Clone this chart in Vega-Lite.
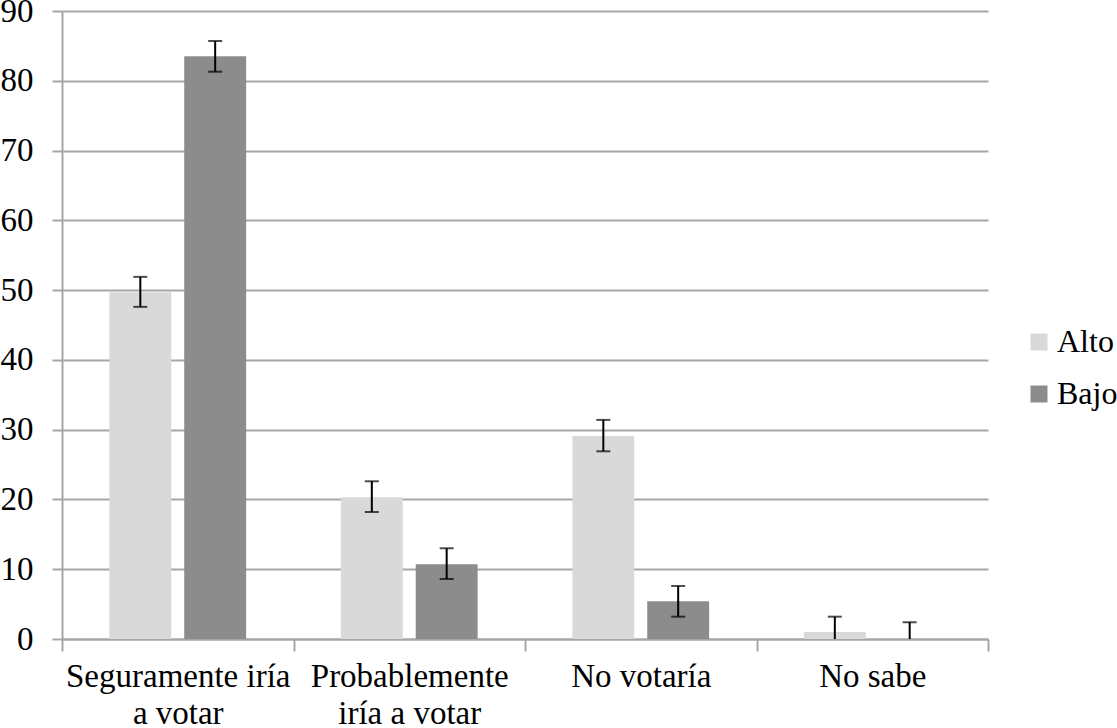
{
  "$schema": "https://vega.github.io/schema/vega-lite/v6.json",
  "width": 926,
  "height": 628,
  "autosize": {"type": "none"},
  "padding": {"left": 62, "top": 11, "right": 129, "bottom": 89},
  "background": "white",
  "config": {"view": {"stroke": null}},
  "data": {
    "values": [
      {"respuesta": "Seguramente iría a votar", "nivel": "Alto", "valor": 49.7, "bajo": 47.6, "alto": 51.9},
      {"respuesta": "Seguramente iría a votar", "nivel": "Bajo", "valor": 83.5, "bajo": 81.3, "alto": 85.7},
      {"respuesta": "Probablemente iría a votar", "nivel": "Alto", "valor": 20.3, "bajo": 18.2, "alto": 22.6},
      {"respuesta": "Probablemente iría a votar", "nivel": "Bajo", "valor": 10.7, "bajo": 8.6, "alto": 13.0},
      {"respuesta": "No votaría", "nivel": "Alto", "valor": 29.1, "bajo": 26.9, "alto": 31.4},
      {"respuesta": "No votaría", "nivel": "Bajo", "valor": 5.4, "bajo": 3.2, "alto": 7.6},
      {"respuesta": "No sabe", "nivel": "Alto", "valor": 1.0, "bajo": -1.2, "alto": 3.2},
      {"respuesta": "No sabe", "nivel": "Bajo", "valor": 0.0, "bajo": -2.4, "alto": 2.4}
    ]
  },
  "encoding": {
    "x": {
      "field": "respuesta",
      "type": "nominal",
      "sort": ["Seguramente iría a votar", "Probablemente iría a votar", "No votaría", "No sabe"],
      "scale": {"paddingInner": 0, "paddingOuter": 0},
      "axis": {
        "title": null,
        "labelAngle": 0,
        "labelFont": "Liberation Serif",
        "labelFontSize": 33,
        "labelColor": "#000000",
        "labelLimit": 0,
        "labelPadding": 9,
        "labelLineHeight": 37,
        "labelBaseline": "top",
        "labelExpr": "datum.value == 'Seguramente iría a votar' ? ['Seguramente iría', 'a votar'] : datum.value == 'Probablemente iría a votar' ? ['Probablemente', 'iría a votar'] : datum.value",
        "tickBand": "extent",
        "tickColor": "#a6a6a6",
        "tickWidth": 2,
        "tickSize": 12,
        "domainColor": "#a6a6a6",
        "domainWidth": 2,
        "grid": false
      }
    },
    "xOffset": {
      "field": "nivel",
      "type": "nominal",
      "sort": ["Alto", "Bajo"],
      "scale": {"paddingInner": 0.173, "paddingOuter": 0.633}
    }
  },
  "layer": [
    {
      "mark": {"type": "bar"},
      "encoding": {
        "y": {
          "field": "valor",
          "type": "quantitative",
          "scale": {"domain": [0, 90], "nice": false},
          "axis": {
            "title": null,
            "values": [0, 10, 20, 30, 40, 50, 60, 70, 80, 90],
            "labelFont": "Liberation Serif",
            "labelFontSize": 33,
            "labelColor": "#000000",
            "labelPadding": 19,
            "tickColor": "#a6a6a6",
            "tickWidth": 2,
            "tickSize": 10,
            "domainColor": "#a6a6a6",
            "domainWidth": 2,
            "gridColor": "#a6a6a6",
            "gridWidth": 2
          }
        },
        "color": {
          "field": "nivel",
          "type": "nominal",
          "scale": {"domain": ["Alto", "Bajo"], "range": ["#d9d9d9", "#8c8c8c"]},
          "legend": {
            "title": null,
            "orient": "none",
            "legendX": 961,
            "legendY": 315,
            "symbolType": "square",
            "symbolSize": 289,
            "symbolStrokeWidth": 0,
            "labelFont": "Liberation Serif",
            "labelFontSize": 32,
            "labelColor": "#000000",
            "labelOffset": 2,
            "rowPadding": 20,
            "padding": 0
          }
        }
      }
    },
    {
      "mark": {"type": "rule", "color": "#000000", "strokeWidth": 2, "clip": true},
      "encoding": {
        "y": {"field": "bajo", "type": "quantitative"},
        "y2": {"field": "alto"}
      }
    },
    {
      "mark": {"type": "tick", "color": "#000000", "thickness": 2, "size": 14, "clip": true},
      "encoding": {
        "y": {"field": "bajo", "type": "quantitative"}
      }
    },
    {
      "mark": {"type": "tick", "color": "#000000", "thickness": 2, "size": 14, "clip": true},
      "encoding": {
        "y": {"field": "alto", "type": "quantitative"}
      }
    }
  ]
}
